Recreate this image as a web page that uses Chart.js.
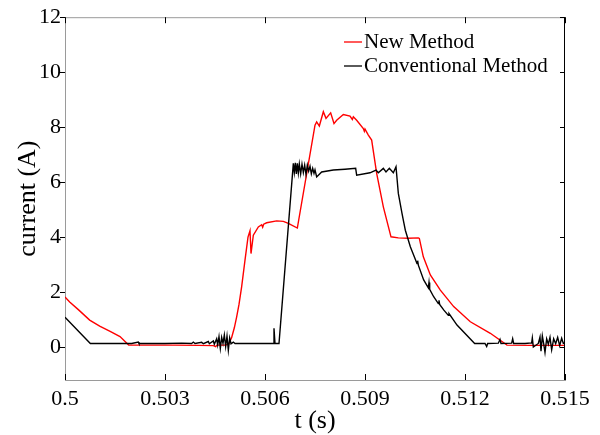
<!DOCTYPE html>
<html><head><meta charset="utf-8">
<script src="https://cdn.jsdelivr.net/npm/chart.js@4.4.0/dist/chart.umd.min.js"></script>
<style>html,body{margin:0;padding:0;background:#fff;}</style>
</head><body>
<canvas id="c" width="600" height="435" style="display:block;width:600px;height:435px"></canvas>
<script>
const xTicks = [0.5, 0.503, 0.506, 0.509, 0.512, 0.515];
const xTickLabels = ['0.5', '0.503', '0.506', '0.509', '0.512', '0.515'];
const yTicks = [0, 2, 4, 6, 8, 10, 12];
const seriesNames = ['New Method', 'Conventional Method'];

const newT = [0.50000,0.50014,0.50040,0.50074,0.50104,0.50134,0.50165,0.50191,0.50250,0.50330,0.50400,0.50445,0.50452,0.50456,0.50480,0.50491,0.50500,0.50508,0.50515,0.50522,0.50530,0.50540,0.50549,0.50555,0.50558,0.50565,0.50580,0.50590,0.50593,0.50596,0.50605,0.50635,0.50655,0.50670,0.50697,0.50750,0.50755,0.50763,0.50775,0.50783,0.50797,0.50807,0.50815,0.50835,0.50855,0.50862,0.50865,0.50875,0.50895,0.50898,0.50900,0.50910,0.50920,0.50935,0.50955,0.50978,0.51000,0.51030,0.51060,0.51063,0.51075,0.51096,0.51126,0.51166,0.51216,0.51276,0.51326,0.51400,0.51500];
const newI = [1.82,1.64,1.36,0.98,0.76,0.58,0.38,0.07,0.07,0.07,0.06,0.05,0.01,0.07,0.07,0.10,0.35,0.70,1.10,1.55,2.20,3.16,4.00,4.23,3.40,4.07,4.37,4.45,4.36,4.47,4.52,4.59,4.57,4.50,4.33,8.07,8.19,8.04,8.56,8.32,8.52,8.13,8.25,8.46,8.40,8.28,8.38,8.25,7.95,7.85,7.93,7.71,7.53,6.32,5.10,4.01,3.97,3.96,3.97,3.95,3.28,2.62,2.07,1.47,0.92,0.50,0.07,0.06,0.06];

const convT = [0.50000,0.50076,0.50150,0.50200,0.50220,0.50222,0.50300,0.50350,0.50380,0.50385,0.50390,0.50410,0.50415,0.50430,0.50433,0.50445,0.50448,0.50455,0.50458,0.50462,0.50466,0.50470,0.50474,0.50478,0.50482,0.50486,0.50490,0.50494,0.50498,0.50505,0.50510,0.50550,0.50600,0.50624,0.50627,0.50630,0.50642,0.50685,0.50688,0.50691,0.50694,0.50697,0.50700,0.50703,0.50707,0.50711,0.50715,0.50719,0.50723,0.50727,0.50731,0.50735,0.50739,0.50743,0.50747,0.50750,0.50755,0.50770,0.50805,0.50840,0.50872,0.50875,0.50915,0.50933,0.50940,0.50955,0.50963,0.50973,0.50985,0.50993,0.51000,0.51011,0.51016,0.51021,0.51036,0.51056,0.51058,0.51060,0.51076,0.51090,0.51092,0.51094,0.51106,0.51120,0.51122,0.51124,0.51136,0.51150,0.51152,0.51176,0.51229,0.51260,0.51265,0.51268,0.51300,0.51305,0.51308,0.51340,0.51343,0.51346,0.51380,0.51400,0.51402,0.51405,0.51420,0.51425,0.51428,0.51432,0.51436,0.51440,0.51445,0.51450,0.51455,0.51460,0.51466,0.51472,0.51478,0.51484,0.51490,0.51495,0.51500];
const convI = [1.08,0.13,0.13,0.13,0.18,0.13,0.13,0.14,0.13,0.18,0.13,0.17,0.12,0.20,0.12,0.22,0.10,0.30,0.08,0.38,-0.05,0.35,0.13,0.44,0.02,0.40,-0.12,0.33,0.12,0.18,0.13,0.13,0.13,0.13,0.68,0.13,0.13,6.68,6.35,6.70,6.30,6.68,6.33,6.66,6.30,6.65,6.35,6.62,6.28,6.62,6.40,6.58,6.30,6.50,6.32,6.45,6.19,6.37,6.44,6.47,6.50,6.25,6.34,6.44,6.34,6.50,6.37,6.50,6.34,6.56,5.59,4.86,4.55,4.25,3.65,3.04,3.14,2.98,2.44,2.15,2.35,2.10,1.83,1.58,1.70,1.55,1.35,1.15,1.22,0.80,0.13,0.13,0.02,0.13,0.14,0.28,0.13,0.14,0.30,0.13,0.13,0.15,0.33,0.00,0.13,0.36,-0.15,0.40,0.12,-0.20,0.30,0.10,0.35,-0.10,0.30,0.12,0.35,0.05,0.32,0.13,0.15];

const FONT = "'Liberation Serif', 'Times New Roman', serif";
const toPts = (t, v) => t.map((x, i) => ({x: x, y: v[i]}));

const framePlugin = {
  id: 'frame',
  afterDatasetsDraw(chart) {
    const {ctx, chartArea: {left, right, top, bottom}, scales: {x, y}} = chart;
    ctx.save();
    ctx.lineWidth = 1;
    ctx.strokeStyle = '#9a9a9a';
    ctx.beginPath();
    ctx.moveTo(left, top + 0.5); ctx.lineTo(right, top + 0.5);
    ctx.stroke();
    ctx.strokeStyle = '#000';
    ctx.beginPath();
    ctx.moveTo(Math.round(right) - 0.5, top); ctx.lineTo(Math.round(right) - 0.5, bottom);
    ctx.stroke();
    ctx.beginPath();
    xTicks.forEach(v => {
      const px = Math.round(x.getPixelForValue(v)) + 0.5;
      ctx.moveTo(px, bottom); ctx.lineTo(px, bottom - 6);
      ctx.moveTo(px, top); ctx.lineTo(px, top + 6);
    });
    yTicks.forEach(v => {
      const py = Math.round(y.getPixelForValue(v)) + 0.5;
      ctx.moveTo(left - 5, py); ctx.lineTo(left, py);
      ctx.moveTo(right - 5, py); ctx.lineTo(right, py);
    });
    ctx.stroke();
    // legend
    const rows = [[seriesNames[0], '#ff0000', 42], [seriesNames[1], '#000000', 66]];
    ctx.font = '21px ' + FONT;
    ctx.textBaseline = 'middle';
    ctx.textAlign = 'left';
    rows.forEach(([label, col, yy]) => {
      ctx.strokeStyle = col;
      ctx.lineWidth = 1.3;
      ctx.beginPath();
      ctx.moveTo(344, yy); ctx.lineTo(362, yy);
      ctx.stroke();
      ctx.fillStyle = '#000';
      ctx.fillText(label, 364, yy);
    });
    ctx.restore();
  }
};

new Chart(document.getElementById('c'), {
  type: 'line',
  data: {
    datasets: [
      {label: seriesNames[1], data: toPts(convT, convI), borderColor: '#000000', borderWidth: 1.4, pointRadius: 0, tension: 0, order: 0},
      {label: seriesNames[0], data: toPts(newT, newI), borderColor: '#ff0000', borderWidth: 1.4, pointRadius: 0, tension: 0, order: 1}
    ]
  },
  options: {
    responsive: false,
    animation: false,
    devicePixelRatio: 1,
    layout: {padding: {top: 16, right: 35, left: 0, bottom: 0}},
    plugins: {legend: {display: false}, tooltip: {enabled: false}},
    scales: {
      x: {
        type: 'linear', min: 0.5, max: 0.515,
        afterFit: s => { s.height = 55; },
        afterBuildTicks: s => { s.ticks = xTicks.map(v => ({value: v})); },
        ticks: {
          font: {family: FONT, size: 22}, color: '#000', padding: 6, maxRotation: 0,
          callback: (v) => { const i = xTicks.findIndex(t => Math.abs(t - v) < 1e-9); return i >= 0 ? xTickLabels[i] : ''; }
        },
        grid: {display: false, drawTicks: false},
        border: {display: true, color: '#9a9a9a', width: 1},
        title: {display: true, text: 't (s)', font: {family: FONT, size: 26, lineHeight: 1}, color: '#000', padding: {top: 0, bottom: 1}}
      },
      y: {
        type: 'linear', min: -1.2, max: 12,
        afterFit: s => { s.width = 65; },
        afterBuildTicks: s => { s.ticks = yTicks.map(v => ({value: v})); },
        ticks: {font: {family: FONT, size: 22}, color: '#000', padding: 4},
        grid: {display: false, drawTicks: false},
        border: {display: true, color: '#9a9a9a', width: 1},
        title: {display: true, text: 'current (A)', font: {family: FONT, size: 26, lineHeight: 1}, color: '#000', padding: {top: 15, bottom: 0}}
      }
    }
  },
  plugins: [framePlugin]
});
</script>
</body></html>
